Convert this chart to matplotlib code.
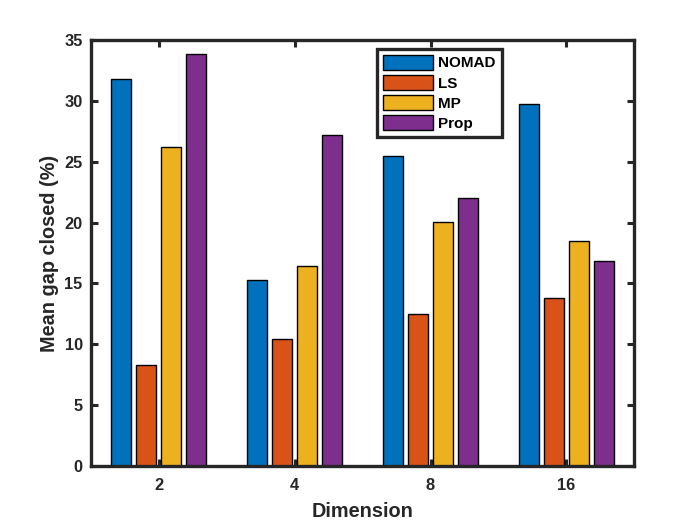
import matplotlib
matplotlib.use("Agg")
import matplotlib.pyplot as plt
import numpy as np

categories = ["2", "4", "8", "16"]
series_names = ["NOMAD", "LS", "MP", "Prop"]
nomad = [31.8, 15.3, 25.5, 29.75]
ls = [8.3, 10.45, 12.5, 13.8]
mp = [26.2, 16.45, 20.05, 18.5]
prop = [33.85, 27.2, 22.05, 16.8]
colors = ["#0072BD", "#D95319", "#EDB120", "#7E2F8E"]

plt.rcParams['font.family'] = ['Liberation Sans', 'DejaVu Sans']
plt.rcParams['font.weight'] = 'bold'

fig = plt.figure(figsize=(7, 5.25), dpi=100)
ax = fig.add_axes([0.13, 0.1124, 0.776, 0.8116])

x = np.arange(1, len(categories) + 1)
step = 0.184
width = 0.147
for i, (vals, name, c) in enumerate(zip([nomad, ls, mp, prop], series_names, colors)):
    ax.bar(x + (i - 1.5) * step, vals, width, color=c, edgecolor='black',
           linewidth=1.0, label=name, zorder=2)

ax.set_xlim(0.5, 4.5)
ax.set_ylim(0, 35)
ax.set_xticks(x)
ax.set_xticklabels(categories)
ax.set_yticks(np.arange(0, 36, 5))
ax.tick_params(direction='in', length=5, width=2.2, colors='#262626',
               labelsize=11.8, top=True, right=True, pad=6)
for lab in ax.get_xticklabels() + ax.get_yticklabels():
    lab.set_fontweight('bold')
    lab.set_color('#262626')
ax.tick_params(axis='x', pad=9)
for s in ax.spines.values():
    s.set_linewidth(2.4)
    s.set_color('#262626')

ax.set_xlabel("Dimension", fontsize=14.3, fontweight='bold', color='#262626', labelpad=6)
ax.set_ylabel("Mean gap closed (%)", fontsize=14.3, fontweight='bold', color='#262626', labelpad=4)

leg = ax.legend(loc='upper left', bbox_to_anchor=(0.527, 0.979), fancybox=False,
                edgecolor='#262626', framealpha=1, fontsize=11,
                handlelength=3.27, handleheight=1.1, handletextpad=0.3,
                labelspacing=0.3, borderpad=0.4, borderaxespad=0)
leg.get_frame().set_linewidth(2.4)
for t in leg.get_texts():
    t.set_fontweight('bold')

fig.savefig("out.png", dpi=100, facecolor='white')
